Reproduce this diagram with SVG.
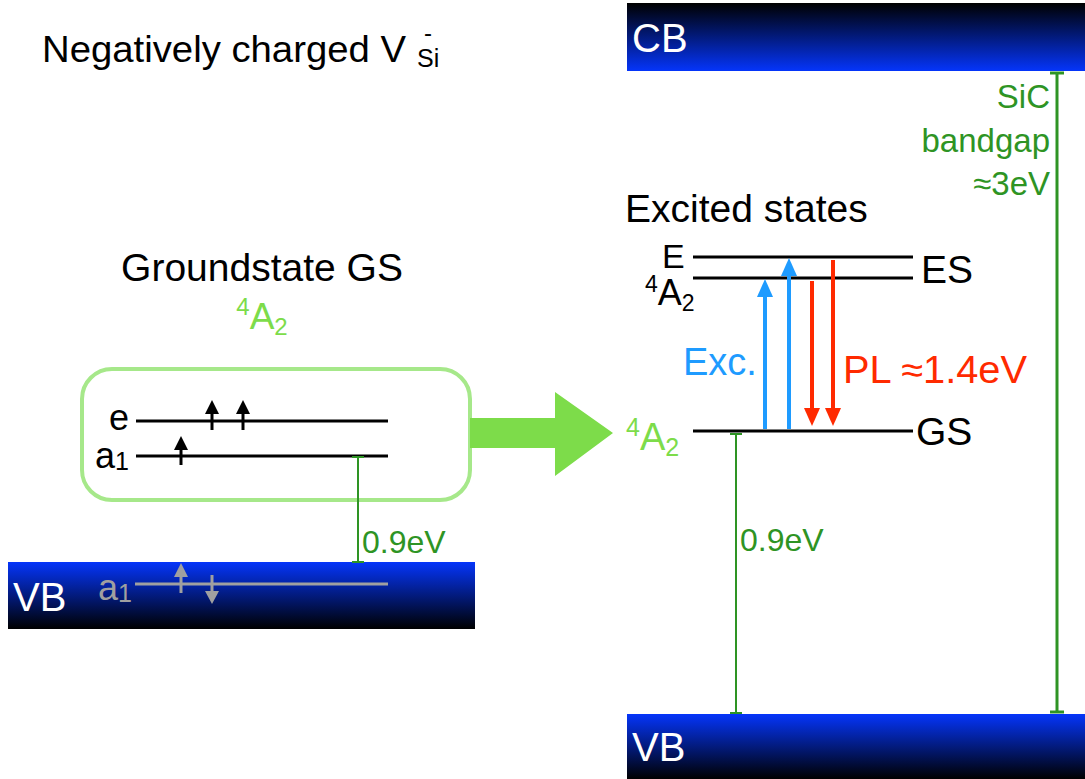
<svg xmlns="http://www.w3.org/2000/svg" width="1085" height="779" viewBox="0 0 1085 779">
<defs>
<linearGradient id="gUp" x1="0" y1="0" x2="0" y2="1"><stop offset="0" stop-color="#000000"/><stop offset="1" stop-color="#0535fa"/></linearGradient>
<linearGradient id="gDown" x1="0" y1="0" x2="0" y2="1"><stop offset="0" stop-color="#0535fa"/><stop offset="1" stop-color="#000000"/></linearGradient>
<style>
text{font-family:"Liberation Sans",Arial,sans-serif}
.lvl{stroke:#000;stroke-width:3}
.gap{stroke:#2e9424;stroke-width:2;fill:none}
.gapT{stroke:#2e9424;stroke-width:3;fill:none}
.green{fill:#2e9424}
.lg{fill:#7ddc4a}
.w{fill:#fff}
</style>
</defs>
<rect width="1085" height="779" fill="#fff"/>

<g id="title"><text x="42" y="62" font-size="37" textLength="364" lengthAdjust="spacingAndGlyphs">Negatively charged V</text><text x="417" y="67" font-size="25">Si</text><text x="424" y="41" font-size="24">-</text></g>

<g id="cb"><rect x="627" y="3" width="458" height="68" fill="url(#gUp)"/><text x="632" y="52" font-size="40" class="w">CB</text></g>
<g id="vb-right"><rect x="627" y="714" width="458" height="65" fill="url(#gDown)"/><text x="632" y="761" font-size="40" class="w">VB</text></g>

<g id="vb-left"><rect x="8" y="562" width="467" height="67" fill="url(#gDown)"/><text x="13" y="611" font-size="40" class="w">VB</text>
<text x="98" y="600" font-size="36" fill="#a0a0a0">a<tspan font-size="25" dy="2">1</tspan></text>
<line x1="135" y1="584" x2="388" y2="584" stroke="#a0a0a0" stroke-width="3"/>
<line x1="181" y1="593" x2="181" y2="574" stroke="#a0a0a0" stroke-width="3"/><path d="M174,577 L181,563 L188,577 Z" fill="#a0a0a0"/>
<line x1="212" y1="575" x2="212" y2="594" stroke="#a0a0a0" stroke-width="3"/><path d="M205,591 L212,604 L219,591 Z" fill="#a0a0a0"/>
</g>

<g id="gs-title"><text x="262" y="281" font-size="39" text-anchor="middle">Groundstate GS</text>
<text x="262" y="329" font-size="37" text-anchor="middle" class="lg"><tspan font-size="24" dy="-14">4</tspan><tspan dy="14">A</tspan><tspan font-size="24" dy="6">2</tspan></text></g>

<g id="gs-box"><rect x="82" y="369" width="388" height="131" rx="30" fill="none" stroke="#a6e88a" stroke-width="4"/>
<text x="109" y="430" font-size="36">e</text>
<text x="95" y="468" font-size="36">a<tspan font-size="25" dy="2">1</tspan></text>
<line class="lvl" x1="136" y1="421" x2="388" y2="421"/>
<line class="lvl" x1="136" y1="456" x2="388" y2="456"/>
<line x1="212" y1="430" x2="212" y2="410" stroke="#000" stroke-width="3"/><path d="M205,414 L212,400 L219,414 Z" fill="#000"/>
<line x1="243" y1="430" x2="243" y2="410" stroke="#000" stroke-width="3"/><path d="M236,414 L243,400 L250,414 Z" fill="#000"/>
<line x1="181" y1="465" x2="181" y2="446" stroke="#000" stroke-width="3"/><path d="M174,450 L181,436 L188,450 Z" fill="#000"/>
</g>

<g id="big-arrow"><path d="M470,418 L555,418 L555,392 L613,433 L555,476 L555,448 L470,448 Z" fill="#7ddc4a"/></g>

<g id="right-levels">
<text x="625" y="222" font-size="39">Excited states</text>
<line class="lvl" x1="693" y1="257" x2="913" y2="257"/>
<line class="lvl" x1="693" y1="278" x2="913" y2="278"/>
<line class="lvl" x1="693" y1="431" x2="913" y2="431"/>
<text x="662" y="268" font-size="34">E</text>
<text x="645" y="305" font-size="36"><tspan font-size="23" dy="-13">4</tspan><tspan dy="13">A</tspan><tspan font-size="23" dy="6">2</tspan></text>
<text x="921" y="283" font-size="39">ES</text>
<text x="916" y="445" font-size="39">GS</text>
<text x="626" y="450" font-size="38" class="lg"><tspan font-size="25" dy="-14">4</tspan><tspan dy="14">A</tspan><tspan font-size="25" dy="6">2</tspan></text>
<text x="683" y="375" font-size="38" fill="#1e9bff">Exc.</text>
<text x="843" y="383" font-size="38" fill="#ff2a00" textLength="184" lengthAdjust="spacingAndGlyphs">PL ≈1.4eV</text>
</g>

<g id="connectors">
<line x1="765" y1="429" x2="765" y2="296" stroke="#1e9bff" stroke-width="4"/><path d="M757,297 L765,279 L773,297 Z" fill="#1e9bff"/>
<line x1="789" y1="429" x2="789" y2="275" stroke="#1e9bff" stroke-width="4"/><path d="M781,276 L789,258 L797,276 Z" fill="#1e9bff"/>
<line x1="812" y1="281" x2="812" y2="410" stroke="#ff2a00" stroke-width="4"/><path d="M804,408 L812,426 L820,408 Z" fill="#ff2a00"/>
<line x1="833" y1="260" x2="833" y2="410" stroke="#ff2a00" stroke-width="4"/><path d="M825,408 L833,426 L841,408 Z" fill="#ff2a00"/>

<line class="gapT" x1="1057" y1="72" x2="1057" y2="713"/>
<line class="gapT" x1="1050" y1="73" x2="1064" y2="73"/>
<line class="gapT" x1="1050" y1="712" x2="1064" y2="712"/>

<line class="gap" x1="736" y1="434" x2="736" y2="713"/>
<line class="gap" x1="730" y1="434" x2="742" y2="434"/>
<line class="gap" x1="730" y1="713" x2="742" y2="713"/>

<line class="gap" x1="358" y1="457" x2="358" y2="562"/>
<line class="gap" x1="352" y1="457" x2="364" y2="457"/>
<line class="gap" x1="352" y1="562" x2="364" y2="562"/>
</g>

<g id="gap-labels">
<text x="1050" y="108" font-size="33" text-anchor="end" class="green">SiC</text>
<text x="1050" y="152" font-size="33" text-anchor="end" class="green">bandgap</text>
<text x="1050" y="195" font-size="33" text-anchor="end" class="green">≈3eV</text>
<text x="362" y="553" font-size="32" class="green">0.9eV</text>
<text x="740" y="551" font-size="32" class="green">0.9eV</text>
</g>
</svg>
